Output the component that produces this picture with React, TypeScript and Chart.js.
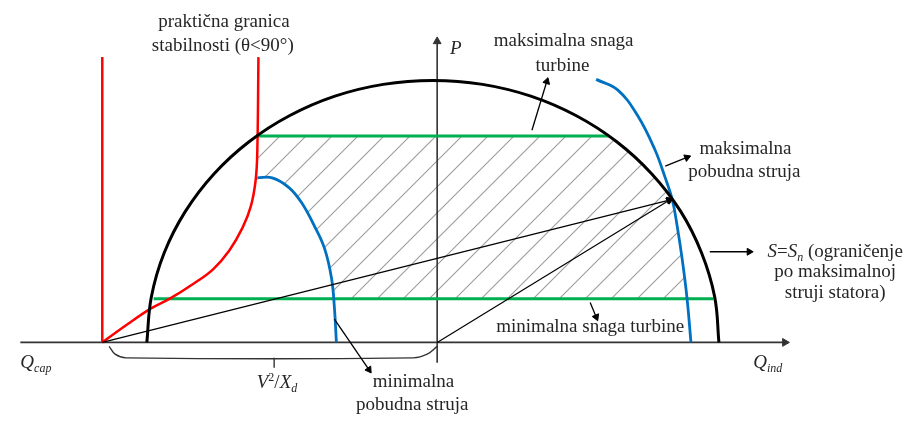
import React, { useEffect, useRef } from 'react';
import { Chart, registerables } from 'chart.js';

Chart.register(...registerables);

// Plane: Q (reactive, p.u. of Sn) horizontally, P (active, p.u. of Sn) vertically
const qRange = [-1.512, 1.651];
const pRange = [-0.279, 1.286];

// S = Sn, stator current limit (semicircle)
const statorQ = [-1.017, -1.001, -0.956, -0.882, -0.782, -0.659, -0.516, -0.358, -0.189, -0.015, 0.159, 0.328, 0.486, 0.629, 0.752, 0.853, 0.926, 0.972, 0.987];
const statorP = [0, 0.174, 0.342, 0.5, 0.643, 0.766, 0.866, 0.94, 0.985, 1, 0.985, 0.94, 0.866, 0.766, 0.643, 0.5, 0.342, 0.174, 0];

// theoretical stability limit (vertical at -V^2/Xd)
const theoQ = [-1.173, -1.173];
const theoP = [0, 1.089];

// practical stability limit (theta < 90°)
const practQ = [-1.173, -1.086, -1.005, -0.935, -0.855, -0.785, -0.728, -0.682, -0.653, -0.636, -0.63, -0.626];
const practP = [0, 0.068, 0.128, 0.168, 0.223, 0.279, 0.351, 0.437, 0.518, 0.617, 0.729, 1.089];

// minimum excitation current
const minExcQ = [-0.63, -0.578, -0.519, -0.474, -0.429, -0.394, -0.37, -0.36, -0.353];
const minExcP = [0.628, 0.628, 0.591, 0.532, 0.442, 0.357, 0.245, 0.134, 0];

// maximum excitation current
const maxExcQ = [0.557, 0.633, 0.702, 0.761, 0.799, 0.824, 0.841, 0.858, 0.875, 0.889];
const maxExcP = [1.004, 0.963, 0.866, 0.74, 0.628, 0.543, 0.442, 0.32, 0.171, 0];

// turbine power limits
const turbMaxQ = [-0.632, 0.602];
const turbMaxP = [0.788, 0.788];
const turbMinQ = [-0.993, 0.968];
const turbMinP = [0.167, 0.167];

// operating point phasors
const phasorAQ = [-1.173, 0.813];
const phasorAP = [0, 0.543];
const phasorBQ = [0, 0.813];
const phasorBP = [0, 0.543];

// permitted operating region (hatched)
const regionQ = [-0.626, 0.602, 0.629, 0.752, 0.822, 0.841, 0.858, 0.876, -0.361, -0.37, -0.394, -0.429, -0.474, -0.519, -0.578, -0.63, -0.626];
const regionP = [0.788, 0.788, 0.766, 0.643, 0.543, 0.442, 0.32, 0.167, 0.167, 0.245, 0.357, 0.442, 0.532, 0.591, 0.628, 0.628, 0.788];

// axes
const axisQQ = [-1.46, 1.218];
const axisQP = [0, 0];
const axisPQ = [0, 0];
const axisPP = [-0.078, 1.149];

// brace marking V^2/Xd
const braceQ = [-1.149, -1.128, -1.09, -0.083, -0.035, 0];
const braceP = [-0.015, -0.045, -0.059, -0.059, -0.045, -0.015];
const braceTickQ = [-0.571, -0.571];
const braceTickP = [-0.059, -0.097];

// leader arrows
const leaderStartQ = [0.332, 0.799, 0.955, 0.536, -0.36];
const leaderStartP = [0.81, 0.673, 0.346, 0.152, 0.089];
const leaderEndQ = [0.384, 0.875, 1.093, 0.557, -0.239];
const leaderEndP = [0.996, 0.706, 0.346, 0.097, -0.104];

// plain annotation lines
const noteLines = [
  'praktična granica',
  'stabilnosti (θ<90°)',
  'maksimalna snaga',
  'turbine',
  'maksimalna',
  'pobudna struja',
  'po maksimalnoj',
  'struji statora)',
  'minimalna snaga turbine',
  'minimalna',
  'pobudna struja',
];
const noteQ = [-0.747, -0.751, 0.443, 0.439, 1.08, 1.076, 1.394, 1.394, 0.536, -0.083, -0.087];
const noteP = [1.223, 1.13, 1.149, 1.056, 0.74, 0.651, 0.268, 0.19, 0.059, -0.152, -0.238];

type Part = { t: string; it?: boolean; sub?: boolean; sup?: boolean };

const symbolLabels: { parts: Part[]; q: number; p: number; align: 'left' | 'center' }[] = [
  { parts: [{ t: 'P', it: true }], q: 0.045, p: 1.119, align: 'left' },
  { parts: [{ t: 'Q', it: true }, { t: 'cap', it: true, sub: true }], q: -1.46, p: -0.078, align: 'left' },
  { parts: [{ t: 'Q', it: true }, { t: 'ind', it: true, sub: true }], q: 1.107, p: -0.078, align: 'left' },
  {
    parts: [{ t: 'V', it: true }, { t: '2', sup: true }, { t: '/' }, { t: 'X', it: true }, { t: 'd', it: true, sub: true }],
    q: -0.561, p: -0.156, align: 'center',
  },
  {
    parts: [{ t: 'S', it: true }, { t: '=' }, { t: 'S', it: true }, { t: 'n', it: true, sub: true }, { t: ' (ograničenje' }],
    q: 1.394, p: 0.346, align: 'center',
  },
];

const FONT_SIZE = 19;
const FAMILY = '"Liberation Serif", "Times New Roman", serif';

function drawRich(ctx: CanvasRenderingContext2D, parts: Part[], x: number, y: number, align: 'left' | 'center') {
  const fontFor = (p: Part) =>
    `${p.it ? 'italic ' : ''}${p.sub || p.sup ? Math.round(FONT_SIZE * 0.62) : FONT_SIZE}px ${FAMILY}`;
  const widths = parts.map((p) => {
    ctx.font = fontFor(p);
    return ctx.measureText(p.t).width;
  });
  const total = widths.reduce((a, b) => a + b, 0);
  let cx = align === 'center' ? x - total / 2 : x;
  parts.forEach((p, i) => {
    ctx.font = fontFor(p);
    const dy = p.sub ? FONT_SIZE * 0.3 : p.sup ? -FONT_SIZE * 0.3 : 0;
    ctx.fillText(p.t, cx, y + dy);
    cx += widths[i];
  });
}

const notesPlugin = {
  id: 'notes',
  afterDatasetsDraw(chart: any) {
    const { ctx } = chart;
    const xs = chart.scales.x;
    const ys = chart.scales.y;
    ctx.save();
    ctx.fillStyle = '#262626';
    ctx.textBaseline = 'middle';
    ctx.textAlign = 'left';
    noteLines.forEach((t, i) => {
      drawRich(ctx, [{ t }], xs.getPixelForValue(noteQ[i]), ys.getPixelForValue(noteP[i]), 'center');
    });
    symbolLabels.forEach((l) => {
      drawRich(ctx, l.parts, xs.getPixelForValue(l.q), ys.getPixelForValue(l.p), l.align);
    });
    ctx.restore();
  },
};

function pts(qs: number[], ps: number[]) {
  return qs.map((q, i) => ({ x: q, y: ps[i] }));
}

function arrowRotation(c: any) {
  const ch = c.chart;
  const d = c.dataset.data;
  const n = d.length;
  const a = d[n - 2];
  const b = d[n - 1];
  const dx = ch.scales.x.getPixelForValue(b.x) - ch.scales.x.getPixelForValue(a.x);
  const dy = ch.scales.y.getPixelForValue(b.y) - ch.scales.y.getPixelForValue(a.y);
  return (Math.atan2(dx, -dy) * 180) / Math.PI;
}

function curve(qs: number[], ps: number[], color: string, width: number, tension: number, order: number) {
  return {
    data: pts(qs, ps),
    showLine: true,
    borderColor: color,
    backgroundColor: color,
    borderWidth: width,
    pointRadius: 0,
    tension,
    fill: false,
    order,
  };
}

function arrow(qs: number[], ps: number[], color: string, width: number, head: number, order: number) {
  return {
    data: pts(qs, ps),
    showLine: true,
    borderColor: color,
    backgroundColor: color,
    borderWidth: width,
    tension: 0,
    fill: false,
    order,
    pointStyle: 'triangle',
    pointRadius: (c: any) => (c.dataIndex === c.dataset.data.length - 1 ? head : 0),
    pointBackgroundColor: color,
    pointBorderColor: color,
    pointBorderWidth: 1,
    pointRotation: arrowRotation,
  };
}

function makeHatch(): CanvasPattern | string {
  const s = 26;
  const c = document.createElement('canvas');
  c.width = s;
  c.height = s;
  const g = c.getContext('2d');
  if (!g) return 'rgba(0,0,0,0)';
  g.strokeStyle = '#9c9c9c';
  g.lineWidth = 1.1;
  g.beginPath();
  g.moveTo(-2, s + 2);
  g.lineTo(s + 2, -2);
  g.moveTo(-2, 2);
  g.lineTo(2, -2);
  g.moveTo(s - 2, s + 2);
  g.lineTo(s + 2, s - 2);
  g.stroke();
  return g.createPattern(c, 'repeat') || 'rgba(0,0,0,0)';
}

export default function App() {
  const ref = useRef<HTMLCanvasElement | null>(null);

  useEffect(() => {
    if (!ref.current) return;
    const RED = '#ff0000';
    const BLUE = '#0070c0';
    const GREEN = '#00b050';
    const BLACK = '#000000';
    const AXIS = '#333333';

    const leaders = leaderStartQ.map((q, i) =>
      arrow([q, leaderEndQ[i]], [leaderStartP[i], leaderEndP[i]], BLACK, 1.3, 4, 1)
    );

    const chart = new Chart(ref.current, {
      type: 'scatter',
      data: {
        datasets: [
          ...leaders,
          arrow(phasorAQ, phasorAP, BLACK, 1.2, 4, 1),
          arrow(phasorBQ, phasorBP, BLACK, 1.2, 4, 1),
          curve(statorQ, statorP, BLACK, 3, 0.4, 2),
          curve(maxExcQ, maxExcP, BLUE, 2.8, 0.4, 3),
          curve(minExcQ, minExcP, BLUE, 2.8, 0.4, 3),
          curve(theoQ, theoP, RED, 2.5, 0, 3),
          curve(practQ, practP, RED, 2.5, 0.4, 3),
          curve(turbMaxQ, turbMaxP, GREEN, 3, 0, 4),
          curve(turbMinQ, turbMinP, GREEN, 3, 0, 4),
          curve(braceQ, braceP, AXIS, 1.4, 0.4, 5),
          curve(braceTickQ, braceTickP, AXIS, 1.4, 0, 5),
          arrow(axisQQ, axisQP, AXIS, 1.6, 4.5, 6),
          arrow(axisPQ, axisPP, AXIS, 1.6, 4.5, 6),
          {
            data: pts(regionQ, regionP),
            showLine: true,
            borderWidth: 0,
            borderColor: 'rgba(0,0,0,0)',
            backgroundColor: makeHatch(),
            pointRadius: 0,
            tension: 0,
            fill: 'shape',
            order: 10,
          },
        ] as any,
      },
      options: {
        animation: false,
        responsive: false,
        maintainAspectRatio: false,
        events: [],
        layout: { padding: 0 },
        plugins: {
          legend: { display: false },
          tooltip: { enabled: false },
          title: { display: false },
        },
        scales: {
          x: { type: 'linear', min: qRange[0], max: qRange[1], display: false },
          y: { type: 'linear', min: pRange[0], max: pRange[1], display: false },
        },
      },
      plugins: [notesPlugin],
    });
    return () => chart.destroy();
  }, []);

  return (
    <div style={{ position: 'absolute', left: 0, top: 0, width: 914, height: 421, background: '#ffffff' }}>
      <canvas ref={ref} width={914} height={421} style={{ display: 'block', width: 914, height: 421 }} />
    </div>
  );
}
